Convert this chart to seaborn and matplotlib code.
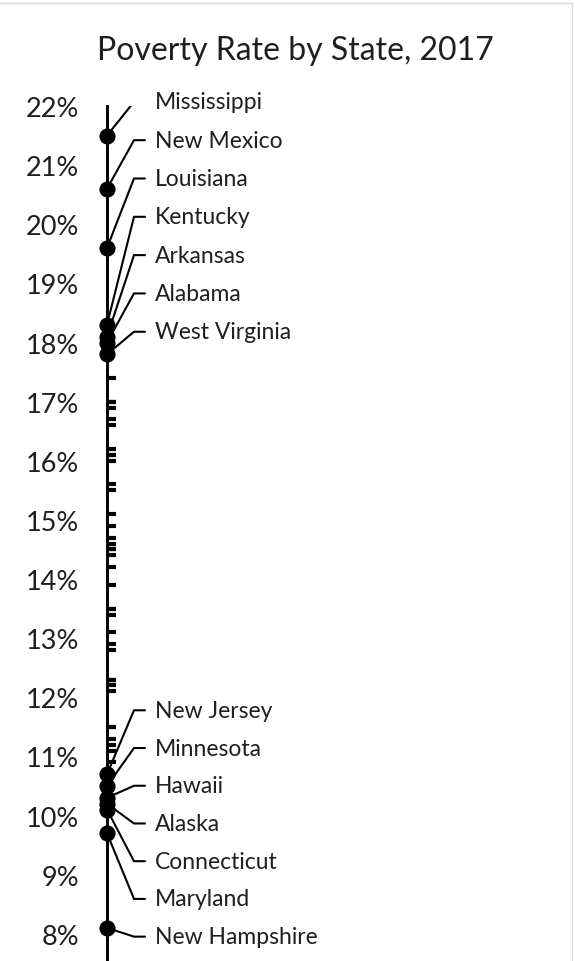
import matplotlib
matplotlib.use("Agg")
import matplotlib.pyplot as plt
import seaborn as sns
import pandas as pd
from matplotlib.patches import Rectangle

# Highest-poverty states (labelled, top of the strip)
top_states = ["Mississippi", "New Mexico", "Louisiana", "Kentucky",
              "Arkansas", "Alabama", "West Virginia"]
top_rates = [21.5, 20.6, 19.6, 18.3, 18.1, 18.0, 17.8]

# Lowest-poverty states (labelled, bottom of the strip)
bottom_states = ["New Jersey", "Minnesota", "Hawaii", "Alaska",
                 "Connecticut", "Maryland", "New Hampshire"]
bottom_rates = [10.7, 10.5, 10.3, 10.2, 10.1, 9.7, 8.1]

# Remaining states, drawn as short unlabelled dashes
mid_rates = [17.4, 17.0, 17.0, 16.9, 16.7, 16.6, 16.2, 16.1, 16.1, 16.0,
             15.6, 15.5, 15.1, 14.9, 14.7, 14.6, 14.5, 14.5, 14.4, 14.2,
             13.9, 13.5, 13.5, 13.4, 13.1, 12.9, 12.8, 12.3, 12.3, 12.2,
             12.1, 11.5, 11.5, 11.3, 11.2, 11.1, 10.9]

y_ticks = list(range(8, 23))
y_tick_labels = [f"{v}%" for v in y_ticks]

sns.set_theme(style="white")
plt.rcParams["font.family"] = ["Lato", "DejaVu Sans"]

TXT = "#1f1f1f"
W, H = 575, 962
fig = plt.figure(figsize=(W / 100, H / 100), dpi=100)

# axes spans from the strip line to the right edge; x in pixel-like units
ax_left = 107 / W
ax_top = 1 - 107 / H
ax = fig.add_axes([ax_left, 0.0, 1 - ax_left, ax_top])
ax.set_xlim(0, W - 107)
ax.set_ylim(7.54, 22)

# unlabelled states: short dashes to the right of the line
ax.hlines(mid_rates, 0, 9, color="black", linewidth=3.0, zorder=2)

# leader lines from each labelled dot to its label slot
top_label_y = [22.07 - 0.648 * i for i in range(len(top_states))]
bottom_label_y = [11.78 - 0.638 * i for i in range(len(bottom_states))]

for names, rates, slots in [(top_states, top_rates, top_label_y),
                            (bottom_states, bottom_rates, bottom_label_y)]:
    for name, r, ly in zip(names, rates, slots):
        ax.plot([0, 27, 38], [r, ly, ly], color="black", lw=1.5,
                solid_joinstyle="miter", zorder=1)
        ax.text(48, ly, name, ha="left", va="center", fontsize=16.5, color=TXT)

dots = pd.DataFrame({"x": [0] * (len(top_rates) + len(bottom_rates)),
                     "rate": top_rates + bottom_rates})
sns.scatterplot(data=dots, x="x", y="rate", ax=ax, color="black", s=135,
                edgecolor="black", linewidth=0, zorder=3, clip_on=False,
                legend=False)

# axis styling: only the left spine as the strip line
for side in ["top", "right", "bottom"]:
    ax.spines[side].set_visible(False)
ax.spines["left"].set_color("black")
ax.spines["left"].set_linewidth(2.1)
ax.set_xticks([])
ax.set_yticks(y_ticks)
ax.set_yticklabels(y_tick_labels, fontsize=19.5, color=TXT)
ax.tick_params(axis="y", length=0, pad=20)
ax.set_xlabel("")
ax.set_ylabel("")
ax.patch.set_alpha(0)

fig.text(295 / W, 1 - 51 / H, "Poverty Rate by State, 2017", ha="center",
         va="center", fontsize=23, color=TXT)

# chart-area border
fig.patches.append(Rectangle((-0.01, -0.01), 572 / W + 0.01, 1 - 4 / H + 0.01,
                             transform=fig.transFigure, fill=False,
                             edgecolor="#d9d9d9", linewidth=1.0))

fig.savefig("out.png", dpi=100)
